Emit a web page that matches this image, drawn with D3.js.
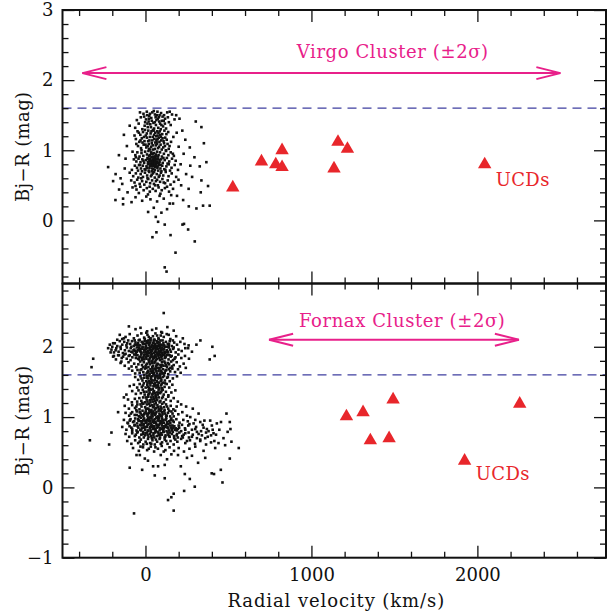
<!DOCTYPE html>
<html><head><meta charset="utf-8">
<script src="https://cdn.jsdelivr.net/npm/d3@7"></script>
<style>body{margin:0;background:#fff}text{font-family:"DejaVu Serif",serif}</style>
</head><body>
<svg id="c" width="608" height="614"></svg>
<script>
// ---------- data ----------
const xDomain=[-500,2775];
const xMajorTicks=[0,1000,2000];
const virgoYDomain=[-0.9,3];
const fornaxYDomain=[-1,2.9];
const virgoYMajor=[0,1,2,3];
const fornaxYMajor=[-1,0,1,2];
const colorCut=1.6;
const virgoRange=[-380,2500];
const fornaxRange=[745,2250];
const arrowColor=2.1;
const virgoTitle="Virgo Cluster (±2σ)";
const fornaxTitle="Fornax Cluster (±2σ)";
const yTitle="Bj−R (mag)";
const xTitle="Radial velocity (km/s)";
const ucdLabel="UCDs";

const virgoUCDs=[[526,0.49],[699,0.86],[785,0.82],[823,1.02],[823,0.78],[1136,0.76],[1160,1.14],[1217,1.04],[2044,0.82]];
const fornaxUCDs=[[1211,1.03],[1311,1.09],[1492,1.27],[1355,0.69],[1468,0.72],[1923,0.40],[2255,1.21]];

const virgoDwarfs=[
[-12,1.52],[8,1.55],[23,1.49],[41,1.54],[57,1.51],[72,1.55],[94,1.53],[112,1.50],[131,1.54],[-28,1.47],[3,1.44],[19,1.41],[35,1.46],[48,1.39],[66,1.43],[81,1.47],[99,1.42],[118,1.45],[-41,1.38],[-5,1.35],[14,1.33],[29,1.37],[52,1.31],[63,1.36],[77,1.32],[88,1.38],[106,1.34],[141,1.40],[-19,1.30],[45,1.29],[70,1.27],[92,1.30],[124,1.31],[-52,1.43],[160,1.51],[152,1.36],[27,1.52],[61,1.47],[85,1.50],[-8,1.48],[38,1.42],[103,1.48],[12,1.38],[56,1.40],[74,1.45],[-33,1.54],[146,1.55],[117,1.38],[33,1.33],[96,1.36],[-62,1.32],[175,1.44],[10,1.50],[50,1.56],[68,1.50],[83,1.41],[20,1.45],[135,1.47],[-2,1.40],[110,1.42],
[-48,1.27],[-31,1.22],[-15,1.26],[2,1.21],[17,1.28],[31,1.24],[44,1.19],[59,1.25],[73,1.21],[86,1.27],[101,1.23],[119,1.18],[137,1.26],[-58,1.16],[-37,1.12],[-22,1.17],[-6,1.13],[9,1.18],[24,1.14],[38,1.10],[53,1.16],[67,1.12],[80,1.18],[95,1.14],[112,1.10],[128,1.15],[154,1.12],[-45,1.06],[-27,1.03],[-11,1.08],[5,1.04],[20,1.09],[34,1.05],[47,1.01],[62,1.07],[76,1.03],[91,1.08],[107,1.04],[123,1.00],[145,1.06],[-66,1.21],[-3,1.29],[27,1.19],[49,1.28],[64,1.20],[89,1.22],[114,1.28],[-18,1.11],[13,1.06],[41,1.14],[57,1.02],[70,1.09],[98,1.01],[133,1.09],[168,1.19],[-40,1.25],[8,1.24],[36,1.27],[78,1.25],[103,1.17],[-24,1.00],[29,1.01],[84,1.12],[117,1.06],[-9,1.19],[52,1.22],[66,1.15],[140,1.02],[16,1.13],[44,1.07],[93,1.19],[-55,1.09],[0,1.08],[59,1.11],[126,1.23],[22,1.02],[73,1.16],[109,1.13],[-30,1.14],[82,1.05],
[-78,0.98],[-61,0.93],[-49,0.97],[-36,0.91],[-24,0.96],[-13,0.92],[-2,0.98],[9,0.94],[18,0.99],[27,0.93],[35,0.97],[44,0.91],[52,0.96],[61,0.92],[70,0.98],[79,0.93],[88,0.97],[99,0.91],[111,0.95],[124,0.99],[138,0.93],[152,0.97],[171,0.92],
[-70,0.87],[-55,0.84],[-42,0.88],[-30,0.83],[-19,0.87],[-8,0.82],[3,0.86],[12,0.89],[21,0.84],[29,0.88],[37,0.83],[45,0.87],[53,0.85],[60,0.89],[68,0.84],[76,0.88],[85,0.83],[94,0.87],[104,0.82],[116,0.86],[129,0.89],[143,0.84],[160,0.88],[182,0.85],
[-64,0.78],[-51,0.75],[-39,0.79],[-27,0.74],[-16,0.78],[-5,0.73],[6,0.77],[15,0.80],[24,0.75],[32,0.79],[40,0.74],[48,0.78],[56,0.76],[64,0.80],[72,0.75],[81,0.79],[90,0.74],[101,0.78],[113,0.73],[126,0.77],[140,0.80],[157,0.75],[176,0.79],
[-82,0.72],[-45,0.71],[-21,0.70],[0,0.72],[19,0.71],[38,0.70],[57,0.72],[77,0.71],[96,0.70],[120,0.72],[148,0.71],
[25,0.86],[33,0.81],[41,0.85],[49,0.82],[57,0.86],[65,0.81],[28,0.78],[46,0.80],[62,0.77],[36,0.90],[54,0.88],[70,0.82],[22,0.92],[43,0.95],[58,0.83],[31,0.85],[50,0.90],[39,0.78],[67,0.87],[15,0.83],[75,0.91],[84,0.86],[10,0.75],[92,0.79],[-12,0.85],[47,0.73],[63,0.94],[34,0.95],[55,0.79],[26,0.81],[73,0.77],[42,0.83],[59,0.91],[17,0.88],[80,0.82],[-33,0.79],[108,0.89],[133,0.81],[-58,0.90],[165,0.95],
[-95,0.68],[-74,0.63],[-58,0.67],[-43,0.61],[-29,0.66],[-15,0.62],[-3,0.68],[10,0.64],[22,0.69],[33,0.63],[45,0.67],[56,0.61],[68,0.66],[80,0.62],[93,0.68],[107,0.64],[122,0.69],[139,0.63],[158,0.67],[185,0.62],
[-86,0.57],[-66,0.54],[-50,0.58],[-35,0.52],[-20,0.56],[-7,0.51],[5,0.55],[17,0.59],[28,0.53],[40,0.57],[51,0.52],[63,0.56],[75,0.50],[88,0.55],[102,0.59],[118,0.53],[134,0.57],[151,0.51],[172,0.55],[199,0.58],
[-78,0.47],[-54,0.44],[-31,0.48],[-11,0.43],[8,0.46],[26,0.41],[44,0.45],[61,0.42],[79,0.47],[98,0.43],[117,0.46],[142,0.41],[166,0.45],
[12,0.60],[37,0.65],[52,0.69],[70,0.58],[85,0.64],[-25,0.60],[110,0.54],[25,0.48],[58,0.50],[-60,0.49],[130,0.48],[90,0.38],[-40,0.39],[15,0.37],[155,0.36],
[-225,0.76],[-195,0.56],[-159,0.44],[-181,0.29],[-135,0.31],[-135,0.23],[-84,0.26],[-160,0.93],[-150,0.60],[-125,0.74],[-112,1.06],[-130,1.22],[-108,0.40],[-95,1.35],[-140,0.52],[-120,0.88],[-180,0.66],
[303,1.41],[337,1.33],[267,1.04],[367,0.83],[327,0.77],[337,0.57],[377,0.49],[333,0.40],[387,0.21],[347,0.21],[307,0.17],[261,0.20],[227,0.29],[230,0.95],[212,0.80],[245,0.66],[281,0.62],[200,1.05],[215,0.50],[240,1.15],[205,1.45],[190,0.35],[260,0.45],[222,1.28],[295,0.90],[188,1.25],[196,0.72],[270,0.78],[185,1.50],[352,1.10],
[297,-0.30],[257,-0.13],[223,-0.06],[232,-0.05],[181,-0.46],[116,-0.67],[127,-0.73],[42,-0.24],[66,-0.17],[116,-0.06],[76,-0.02],[62,0.05],[96,0.11],[151,-0.21],[16,0.12],[166,0.24],[146,0.24],[-20,0.28],[30,0.30],[70,0.27],[110,0.31],[50,0.18],[-60,0.33],[130,0.16],[5,0.34],[85,0.35]
];

const fornaxDwarfs=[
[40,2.24],[95,2.21],[-30,2.27],[132,2.28],[-100,2.29],[110,2.48],[65,2.26],[10,2.22],[170,2.23],[-60,2.25],
[-120,2.14],[-95,2.18],[-70,2.12],[-48,2.16],[-25,2.19],[-8,2.13],[12,2.17],[28,2.11],[45,2.15],[60,2.19],[78,2.12],[92,2.16],[110,2.14],[128,2.18],[150,2.11],[185,2.15],[-140,2.11],[5,2.20],[55,2.10],[100,2.20],[140,2.17],[-35,2.10],[20,2.14],[70,2.16],[225,2.12],
[-185,2.05],[-170,2.01],[-155,2.08],[-140,2.03],[-128,2.07],[-115,2.02],[-104,2.09],[-92,2.04],[-81,2.08],[-70,2.01],[-60,2.06],[-50,2.03],[-41,2.09],[-32,2.02],[-23,2.07],[-14,2.04],[-5,2.08],[4,2.01],[13,2.06],[22,2.03],[31,2.09],[40,2.02],[49,2.07],[58,2.04],[67,2.08],[76,2.01],[85,2.06],[94,2.03],[103,2.09],[113,2.02],[123,2.07],[134,2.04],[146,2.08],[159,2.01],[173,2.06],[190,2.03],[210,2.07],[235,2.04],[260,2.02],[307,2.03],[331,2.09],[403,2.00],
[-44,2.05],[-18,2.00],[8,2.05],[27,2.06],[36,2.00],[53,2.01],[72,2.05],[90,2.09],[108,2.05],[118,2.00],[-65,2.09],[-110,2.05],[-150,2.00],[140,2.01],[165,2.09],[-1,2.04],[44,2.05],[62,2.01],[81,2.03],[18,2.09],
[-205,1.96],[-190,1.92],[-176,1.98],[-162,1.93],[-149,1.97],[-136,1.91],[-124,1.95],[-112,1.99],[-100,1.94],[-89,1.98],[-78,1.92],[-67,1.96],[-57,1.91],[-47,1.95],[-38,1.99],[-29,1.93],[-20,1.97],[-11,1.92],[-2,1.96],[7,1.90],[16,1.94],[25,1.98],[34,1.93],[43,1.97],[52,1.91],[61,1.95],[70,1.99],[79,1.94],[88,1.98],[97,1.92],[107,1.96],[117,1.91],[128,1.95],[140,1.99],[153,1.93],[167,1.97],[182,1.92],[199,1.96],[218,1.94],[240,1.98],[257,1.98],[280,1.93],
[-52,1.99],[-33,1.94],[-15,1.99],[3,1.93],[12,1.98],[21,1.91],[30,1.96],[39,1.90],[48,1.99],[57,1.93],[66,1.92],[75,1.97],[84,1.91],[93,1.95],[102,1.99],[-85,1.93],[-120,1.90],[-7,1.95],[112,1.97],[135,1.93],[-62,1.94],[-24,1.91],[26,1.95],[62,1.98],
[-195,1.86],[-178,1.82],[-160,1.88],[-143,1.84],[-127,1.89],[-113,1.83],[-101,1.87],[-90,1.81],[-79,1.85],[-68,1.89],[-58,1.84],[-48,1.88],[-39,1.82],[-30,1.86],[-21,1.81],[-12,1.85],[-3,1.89],[6,1.83],[15,1.87],[24,1.82],[33,1.86],[42,1.80],[51,1.84],[60,1.88],[69,1.83],[78,1.87],[87,1.81],[96,1.85],[106,1.89],[116,1.84],[127,1.88],[139,1.82],[152,1.86],[166,1.81],[181,1.85],[198,1.89],[216,1.84],[238,1.87],[262,1.83],[-315,1.83],[387,1.82],[417,1.87],
[-44,1.83],[-26,1.89],[-8,1.82],[10,1.88],[28,1.84],[37,1.89],[46,1.83],[55,1.86],[64,1.81],[73,1.89],[91,1.88],[101,1.82],[120,1.86],[-95,1.88],[-135,1.86],[145,1.88],[175,1.83],[2,1.85],[19,1.81],[83,1.84],
[-225,1.98],[-215,2.03],[-195,2.05],[-155,2.17],[-145,1.79],[-210,1.92],[-180,1.95],[-200,2.00],[-165,1.88],[-170,2.10],[-130,2.12],[-190,1.87],
[-85,2.00],[-72,1.95],[-58,1.88],[-46,2.02],[-36,1.85],[-27,1.97],[-17,2.06],[-9,1.88],[0,1.99],[9,2.08],[17,1.87],[26,2.00],[33,1.89],[41,1.95],[50,2.10],[59,1.87],[66,1.97],[74,2.07],[82,1.89],[89,2.00],[98,1.87],[105,2.02],[114,1.93],[121,1.85],[129,2.00],[137,1.89],[148,1.96],[158,1.87],[170,1.99],[-20,1.84],[-4,2.11],[14,1.92],[23,2.04],[37,1.94],[46,1.86],[55,1.98],[71,1.91],[79,2.11],[95,1.97],[110,1.88],[125,1.92],[-38,1.97],[-64,2.03],[4,1.97],[31,2.12],[63,1.85],[87,1.93],[101,1.91],[142,2.04],[-52,1.93],
[-150,1.77],[-125,1.73],[-102,1.78],[-84,1.72],[-68,1.76],[-55,1.71],[-43,1.75],[-32,1.79],[-21,1.74],[-10,1.78],[0,1.72],[9,1.76],[18,1.71],[27,1.75],[36,1.79],[45,1.73],[54,1.77],[63,1.72],[72,1.76],[81,1.70],[90,1.74],[99,1.78],[109,1.73],[119,1.77],[130,1.71],[142,1.75],[155,1.79],[170,1.74],[188,1.78],[207,1.72],[230,1.76],[243,1.70],[-325,1.71],
[40,1.71],[58,1.79],[76,1.75],[95,1.71],[114,1.79],[136,1.77],[160,1.72],[22,1.78],[4,1.74],[-15,1.71],[67,1.74],[124,1.74],
[-80,1.66],[-62,1.62],[-48,1.67],[-35,1.63],[-24,1.68],[-13,1.64],[-3,1.69],[7,1.62],[16,1.66],[25,1.61],[34,1.65],[43,1.69],[52,1.63],[61,1.67],[70,1.62],[79,1.66],[88,1.60],[97,1.64],[106,1.68],[116,1.63],[126,1.67],[137,1.61],[149,1.65],[162,1.69],[178,1.64],[196,1.68],[212,1.63],[-100,1.69],
[30,1.68],[48,1.61],[66,1.65],[84,1.69],[102,1.62],[120,1.66],[142,1.68],[12,1.64],[57,1.69],[92,1.66],
[-62,1.57],[-44,1.53],[-30,1.58],[-18,1.52],[-7,1.56],[4,1.51],[14,1.55],[23,1.59],[32,1.54],[41,1.58],[50,1.52],[59,1.56],[68,1.51],[77,1.55],[86,1.59],[96,1.53],[106,1.57],[117,1.52],[130,1.56],[146,1.51],[165,1.55],[190,1.58],
[20,1.51],[37,1.53],[55,1.59],[73,1.58],[91,1.56],[112,1.59],[9,1.58],[-24,1.55],
[-70,1.46],[-50,1.42],[-35,1.47],[-22,1.43],[-10,1.48],[1,1.42],[11,1.46],[21,1.41],[30,1.45],[39,1.49],[48,1.44],[57,1.48],[66,1.42],[75,1.46],[84,1.41],[94,1.45],[104,1.49],[115,1.43],[128,1.47],[143,1.42],[162,1.46],[-95,1.44],
[26,1.48],[44,1.40],[62,1.45],[80,1.49],[99,1.41],[16,1.43],[52,1.47],
[5,1.70],[18,1.64],[32,1.57],[45,1.66],[58,1.53],[71,1.70],[84,1.56],[97,1.47],[110,1.62],[125,1.73],[-8,1.60],[12,1.49],[26,1.40],[39,1.63],[53,1.44],[66,1.58],[79,1.35],[92,1.51],[104,1.39],[118,1.48],[135,1.57],[-15,1.45],[2,1.28],[19,1.33],[35,1.50],[48,1.36],[63,1.29],[77,1.43],[88,1.62],[101,1.74],[-30,1.67],[150,1.70],[40,1.77],[70,1.50],[10,1.56],
[-115,1.32],[-80,1.37],[-58,1.33],[-42,1.38],[-28,1.34],[-16,1.39],[-5,1.32],[6,1.36],[16,1.31],[25,1.35],[34,1.39],[43,1.33],[52,1.37],[61,1.31],[70,1.35],[79,1.39],[89,1.34],[99,1.38],[110,1.32],[123,1.36],[138,1.31],[156,1.35],[180,1.38],
[20,1.38],[38,1.32],[56,1.34],[74,1.32],[94,1.36],[-10,1.36],
[-105,1.25],[-82,1.21],[-64,1.26],[-50,1.22],[-37,1.27],[-25,1.23],[-14,1.28],[-3,1.21],[7,1.25],[17,1.29],[26,1.24],[35,1.28],[44,1.22],[53,1.26],[62,1.20],[71,1.24],[80,1.28],[90,1.23],[100,1.27],[111,1.21],[123,1.25],[137,1.29],[152,1.23],[170,1.27],[195,1.22],[-130,1.28],
[12,1.22],[30,1.21],[48,1.29],[66,1.27],[85,1.21],[105,1.29],[-20,1.20],[40,1.25],[58,1.23],
[-125,1.16],[-100,1.12],[-80,1.17],[-63,1.13],[-49,1.18],[-36,1.11],[-24,1.15],[-13,1.19],[-2,1.14],[8,1.18],[18,1.12],[27,1.16],[36,1.10],[45,1.14],[54,1.18],[63,1.13],[72,1.17],[81,1.11],[91,1.15],[101,1.19],[112,1.14],[124,1.18],[137,1.12],[152,1.16],[168,1.11],[188,1.15],[215,1.18],[-165,1.07],
[3,1.11],[22,1.19],[40,1.17],[58,1.11],[76,1.14],[96,1.12],[-30,1.18],[-55,1.15],[130,1.15],[50,1.15],
[-120,1.06],[-98,1.02],[-80,1.07],[-65,1.03],[-52,1.08],[-40,1.01],[-29,1.05],[-18,1.09],[-8,1.04],[2,1.08],[12,1.02],[21,1.06],[30,1.00],[39,1.04],[48,1.08],[57,1.03],[66,1.07],[75,1.01],[84,1.05],[93,1.09],[103,1.04],[113,1.08],[124,1.02],[136,1.06],[149,1.01],[163,1.05],[179,1.09],[198,1.04],[222,1.07],[250,1.02],[488,1.05],
[-35,1.07],[-13,1.01],[7,1.05],[25,1.09],[43,1.01],[61,1.05],[79,1.09],[98,1.01],[118,1.05],[-88,1.05],[142,1.09],[170,1.01],[35,1.07],[52,1.05],[88,1.03],[16,1.04],
[-130,0.96],[-108,0.92],[-90,0.97],[-75,0.93],[-62,0.98],[-50,0.91],[-39,0.95],[-28,0.99],[-18,0.94],[-8,0.98],[1,0.92],[10,0.96],[19,0.90],[28,0.94],[37,0.98],[46,0.93],[55,0.97],[64,0.91],[73,0.95],[82,0.99],[91,0.94],[100,0.98],[110,0.92],[120,0.96],[131,0.90],[143,0.94],[156,0.98],[170,0.93],[186,0.97],[205,0.92],[228,0.96],[255,0.94],[290,0.91],[508,0.93],[-105,0.91],
[-45,0.97],[-23,0.91],[-3,0.95],[15,0.99],[33,0.91],[51,0.95],[69,0.99],[87,0.91],[105,0.95],[125,0.99],[-68,0.94],[150,0.92],[24,0.97],[42,0.95],[60,0.93],[78,0.97],[96,0.93],[5,0.93],[-13,0.96],
[-140,0.86],[-115,0.82],[-96,0.87],[-80,0.83],[-66,0.88],[-54,0.81],[-43,0.85],[-32,0.89],[-22,0.84],[-12,0.88],[-2,0.82],[8,0.86],[17,0.80],[26,0.84],[35,0.88],[44,0.83],[53,0.87],[62,0.81],[71,0.85],[80,0.89],[89,0.84],[98,0.88],[107,0.82],[117,0.86],[127,0.80],[138,0.84],[149,0.88],[161,0.83],[174,0.87],[188,0.81],[203,0.85],[220,0.89],[238,0.84],[258,0.88],[280,0.82],[305,0.86],[335,0.80],[512,0.83],[-205,0.78],
[-48,0.87],[-27,0.81],[-7,0.85],[12,0.89],[31,0.81],[49,0.85],[67,0.89],[85,0.81],[103,0.85],[122,0.89],[143,0.81],[168,0.85],[195,0.83],[-85,0.85],[40,0.86],[58,0.83],[76,0.87],[94,0.83],[112,0.87],[132,0.86],[155,0.85],[182,0.84],
[-55,1.10],[-42,0.95],[-31,0.82],[-20,1.03],[-10,0.90],[0,0.77],[9,1.12],[18,0.98],[27,0.86],[35,0.73],[44,1.06],[52,0.92],[61,0.80],[69,1.00],[77,0.88],[86,0.75],[94,1.13],[103,0.96],[111,0.84],[119,0.72],[128,1.02],[137,0.90],[146,0.78],[156,1.08],[166,0.95],[178,0.82],[190,0.76],[-47,0.79],[-36,1.01],[-24,0.88],[-15,0.76],[-5,1.06],[4,0.93],[14,0.81],[23,1.10],[31,0.99],[40,0.88],[48,0.77],[57,1.11],[65,0.99],[73,0.86],[81,0.74],[90,1.02],[98,0.91],[107,0.79],[115,1.10],[124,0.97],[133,0.85],[142,0.73],[152,0.96],[162,0.88],[172,0.73],[200,0.88],[215,0.80],[-65,0.89],[-52,1.03],[-28,0.94],[-2,0.86],[20,0.94],[37,1.03],[54,0.85],[83,0.95],[101,1.07],[130,0.93],[158,0.81],[-80,0.80],[-95,0.95],[240,0.82],[225,0.71],[260,0.78],
[-120,0.76],[-98,0.72],[-80,0.77],[-64,0.73],[-50,0.78],[-37,0.71],[-25,0.75],[-14,0.79],[-3,0.74],[8,0.78],[18,0.72],[28,0.76],[38,0.70],[48,0.74],[58,0.78],[68,0.73],[78,0.77],[88,0.71],[99,0.75],[110,0.79],[121,0.74],[133,0.78],[146,0.72],[159,0.76],[173,0.70],[188,0.74],[204,0.78],[221,0.73],[240,0.77],[262,0.71],[285,0.75],[310,0.79],[340,0.74],[375,0.72],[410,0.77],[-335,0.67],
[-10,0.71],[13,0.75],[33,0.79],[53,0.71],[73,0.79],[93,0.77],[115,0.71],[138,0.75],[165,0.79],[195,0.71],[-58,0.75],[230,0.75],
[350,0.85],[380,0.80],[400,0.88],[425,0.75],[360,0.70],[445,0.82],[470,0.70],[455,0.93],[390,0.95],[330,0.93],[310,0.70],[365,0.78],[300,0.96],[415,0.66],[480,0.60],[495,0.79],[430,0.91],[270,1.00],[320,1.05],[285,1.12],[245,1.15],
[300,0.83],[320,0.76],[345,0.89],[370,0.83],[395,0.74],[280,0.72],[265,0.90],[330,0.68],[405,0.82],[355,0.95],
[-110,0.66],[-85,0.62],[-62,0.67],[-44,0.63],[-28,0.68],[-13,0.61],[1,0.65],[15,0.69],[28,0.63],[42,0.67],[56,0.61],[70,0.65],[85,0.69],[100,0.64],[116,0.68],[133,0.62],[151,0.66],[170,0.61],[192,0.65],[215,0.69],[240,0.63],[268,0.67],[298,0.62],[330,0.66],[365,0.61],[395,0.64],[440,0.63],[518,0.65],[-219,0.61],
[35,0.62],[63,0.68],[92,0.62],[125,0.66],[180,0.68],[-35,0.65],[8,0.62],[250,0.66],
[-75,0.56],[-40,0.52],[-15,0.57],[10,0.53],[32,0.58],[52,0.51],[75,0.55],[98,0.59],[120,0.53],[145,0.57],[172,0.52],[200,0.56],[232,0.51],[265,0.55],[300,0.58],[350,0.52],[420,0.56],[562,0.56],[20,0.55],[60,0.57],[110,0.51],[-30,0.58],
[-95,0.28],[-69,-0.37],[170,-0.33],[136,-0.18],[156,-0.14],[170,-0.09],[233,-0.05],[297,0.01],[464,0.07],[413,0.19],[454,0.25],[399,0.20],[508,0.41],[56,0.17],[116,0.13],[237,0.19],[267,0.12],[213,0.30],[116,0.32],[76,0.30],[46,0.30],[-54,0.46],[-34,0.46],[-4,0.41],[92,0.46],[156,0.47],[196,0.46],[317,0.35],[15,0.38],[130,0.40],[250,0.42],[360,0.42],[-20,0.25],[280,0.45]
];

// ---------- layout ----------
const L=62.5,R=606,T=10,M=283.5,B=557.7;
const black="#111", red="#e8262b", magenta="#e8208a", blue="#3f3fa0";
const ptSize=2.6;
const svg=d3.select("#c");
const x=d3.scaleLinear().domain(xDomain).range([L,R]);
const yV=d3.scaleLinear().domain(virgoYDomain).range([M,T]);
const yF=d3.scaleLinear().domain(fornaxYDomain).range([B,M]);

const xMinor=d3.range(-400,2701,200).filter(v=>!xMajorTicks.includes(v));
function minorY(dom){return d3.range(Math.ceil(dom[0]*5),Math.floor(dom[1]*5)+1).map(v=>+(v/5).toFixed(1)).filter(v=>Math.abs(v-Math.round(v))>1e-6);}

function panel(y,yMajor,pts,ucds,range,title,titlePos,ucdPos,isBottom,id){
  const top=y.range()[1], bot=y.range()[0];
  const g=svg.append("g");
  g.append("clipPath").attr("id",id).append("rect").attr("x",L).attr("y",top).attr("width",R-L).attr("height",bot-top);
  const pg=g.append("g").attr("clip-path",`url(#${id})`);
  pg.append("line").attr("x1",L).attr("x2",R).attr("y1",y(colorCut)).attr("y2",y(colorCut))
    .attr("stroke",blue).attr("stroke-width",1.3).attr("stroke-dasharray","9,6");
  pg.selectAll("rect.pt").data(pts).join("rect").attr("class","pt")
    .attr("x",d=>x(d[0])-ptSize/2).attr("y",d=>y(d[1])-ptSize/2).attr("width",ptSize).attr("height",ptSize).attr("fill",black);
  pg.selectAll("path.ucd").data(ucds).join("path").attr("class","ucd")
    .attr("d",d3.symbol(d3.symbolTriangle,78)).attr("transform",d=>`translate(${x(d[0])},${y(d[1])+1.5})`).attr("fill",red);
  const ay=y(arrowColor), x1=x(range[0]), x2=x(range[1]);
  const ag=pg.append("g").attr("stroke",magenta).attr("stroke-width",2).attr("fill","none");
  ag.append("line").attr("x1",x1).attr("x2",x2).attr("y1",ay).attr("y2",ay);
  ag.append("path").attr("d",`M${x1+24},${ay-6}L${x1},${ay}L${x1+24},${ay+6}`);
  ag.append("path").attr("d",`M${x2-24},${ay-6}L${x2},${ay}L${x2-24},${ay+6}`);
  g.append("text").attr("x",x(titlePos[0])).attr("y",y(titlePos[1])).attr("text-anchor","middle")
    .attr("fill",magenta).attr("font-size",18).attr("letter-spacing",0.6).text(title);
  g.append("text").attr("x",x(ucdPos[0])).attr("y",y(ucdPos[1]))
    .attr("fill",red).attr("font-size",18).attr("letter-spacing",0.4).text(ucdLabel);
  const yMin=minorY(y.domain());
  const style=s=>{s.select(".domain").remove();s.selectAll("line").attr("stroke",black).attr("stroke-width",1.3);};
  g.append("g").attr("transform",`translate(${L},0)`).call(d3.axisLeft(y).tickValues(yMin).tickSize(-6).tickFormat("")).call(style);
  g.append("g").attr("transform",`translate(${L},0)`).call(d3.axisLeft(y).tickValues(yMajor).tickSize(-12).tickPadding(9).tickFormat(d3.format("d"))).call(style)
    .selectAll("text").attr("font-size",18).attr("fill",black).attr("font-family","DejaVu Serif");
  g.append("g").attr("transform",`translate(${R},0)`).call(d3.axisRight(y).tickValues(yMin).tickSize(-6).tickFormat("")).call(style);
  g.append("g").attr("transform",`translate(${R},0)`).call(d3.axisRight(y).tickValues(yMajor).tickSize(-12).tickFormat("")).call(style);
  g.append("g").attr("transform",`translate(0,${top})`).call(d3.axisTop(x).tickValues(xMinor).tickSize(-6).tickFormat("")).call(style);
  g.append("g").attr("transform",`translate(0,${top})`).call(d3.axisTop(x).tickValues(xMajorTicks).tickSize(-12).tickFormat("")).call(style);
  g.append("g").attr("transform",`translate(0,${bot})`).call(d3.axisBottom(x).tickValues(xMinor).tickSize(-6).tickFormat("")).call(style);
  const xb=g.append("g").attr("transform",`translate(0,${bot})`).call(d3.axisBottom(x).tickValues(xMajorTicks).tickSize(-12).tickPadding(11).tickFormat(isBottom?d3.format("d"):"")).call(style);
  xb.selectAll("text").attr("font-size",18).attr("fill",black).attr("font-family","DejaVu Serif");
  g.append("rect").attr("x",L).attr("y",top).attr("width",R-L).attr("height",bot-top)
    .attr("fill","none").attr("stroke",black).attr("stroke-width",2);
  g.append("text").attr("transform",`translate(29,${(top+bot)/2}) rotate(-90)`).attr("text-anchor","middle")
    .attr("font-size",18).attr("letter-spacing",0.4).attr("fill",black).text(yTitle);
}

panel(yV,virgoYMajor,virgoDwarfs,virgoUCDs,virgoRange,virgoTitle,[1490,2.31],[2110,0.49],false,"cv");
panel(yF,fornaxYMajor,fornaxDwarfs,fornaxUCDs,fornaxRange,fornaxTitle,[1547,2.285],[1990,0.105],true,"cf");

svg.append("text").attr("x",(x(xDomain[0])+x(xDomain[1]))/2+2).attr("y",607).attr("text-anchor","middle")
  .attr("font-size",18).attr("letter-spacing",0.9).attr("fill",black).text(xTitle);
</script>
</body></html>
